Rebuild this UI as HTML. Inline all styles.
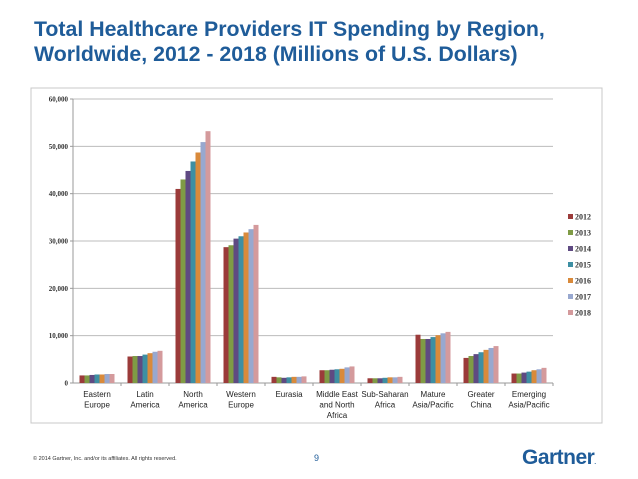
<!DOCTYPE html>
<html><head><meta charset="utf-8">
<style>
body{margin:0;width:638px;height:479px;background:#fff;font-family:"Liberation Sans",sans-serif;overflow:hidden;position:relative}
#title{position:absolute;left:34px;top:17px;color:#1f5c99;font-weight:bold;font-size:21.3px;line-height:25px;margin:0;white-space:nowrap}
#foot{position:absolute;left:33px;top:456px;font-size:5.5px;color:#333}
#pg{position:absolute;left:314px;top:453px;font-size:9px;color:#1f5c99}
#logo{position:absolute;left:522px;top:446px;font-size:21px;font-weight:bold;color:#1f5c99;letter-spacing:-0.5px}
</style></head><body>
<h1 id="title">Total Healthcare Providers IT Spending by Region,<br>Worldwide, 2012 - 2018 (Millions of U.S. Dollars)</h1>
<svg id="chart" width="638" height="479" style="position:absolute;left:0;top:0"></svg>
<div id="foot">© 2014 Gartner, Inc. and/or its affiliates. All rights reserved.</div>
<div id="pg">9</div>
<div id="logo">Gartner<span style="font-size:6px">.</span></div>
<script>
const categories=[["Eastern","Europe"],["Latin","America"],["North","America"],["Western","Europe"],["Eurasia"],["Middle East","and North","Africa"],["Sub-Saharan","Africa"],["Mature","Asia/Pacific"],["Greater","China"],["Emerging","Asia/Pacific"]];
const years=["2012","2013","2014","2015","2016","2017","2018"];
const colors=["#9b3b3a","#7f9b45","#5f4a82","#3d8fa3","#d98a3b","#98a8cf","#d49a9c"];
const s2012=[1600,5600,41000,28700,1300,2700,1000,10200,5300,2000];
const s2013=[1600,5700,43000,29100,1200,2700,1000,9300,5700,2000];
const s2014=[1700,5700,44800,30500,1100,2800,1000,9300,6100,2200];
const s2015=[1800,6000,46800,31000,1200,2900,1100,9700,6500,2400];
const s2016=[1800,6300,48700,31800,1300,3000,1200,10100,7000,2700];
const s2017=[1900,6600,50900,32500,1300,3300,1200,10500,7400,2900];
const s2018=[1900,6800,53200,33400,1400,3500,1300,10800,7800,3200];
const series=[s2012,s2013,s2014,s2015,s2016,s2017,s2018];
const ticks=[0,10000,20000,30000,40000,50000,60000];
const tickLabels=["0","10,000","20,000","30,000","40,000","50,000","60,000"];
const svg=document.getElementById('chart');const NS="http://www.w3.org/2000/svg";
function mk(t,a,p){const e=document.createElementNS(NS,t);for(const k in a)e.setAttribute(k,a[k]);(p||svg).appendChild(e);return e;}
const X0=73,X1=553,Y0=383,Y1=99;
const y=v=>Y0-(v/60000)*(Y0-Y1);
const gw=(X1-X0)/categories.length;
const frame=mk('rect',{x:31,y:88,width:571,height:335,fill:'#fff',stroke:'#c8c8c8','stroke-width':1});

ticks.forEach((t,i)=>{
 if(t>0){const g=mk('line',{x1:X0,y1:y(t),x2:X1,y2:y(t),stroke:'#bcbcbc','stroke-width':1});
 }
 mk('line',{x1:X0-3,y1:y(t),x2:X0,y2:y(t),stroke:'#999'});
 const tx=mk('text',{x:X0-5,y:y(t)+2.5,'text-anchor':'end','font-size':7,'font-family':'Liberation Serif,serif','font-weight':'bold',fill:'#333'});
 tx.textContent=tickLabels[i];
 
});
mk('line',{x1:X0,y1:Y1,x2:X0,y2:Y0,stroke:'#999'});
mk('line',{x1:X0,y1:Y0,x2:X1,y2:Y0,stroke:'#999'});
const bw=5;
categories.forEach((c,ci)=>{
 const gx=X0+gw*ci, start=gx+(gw-bw*7)/2;
 mk('line',{x1:gx+gw,y1:Y0,x2:gx+gw,y2:Y0+3,stroke:'#999'});
 series.forEach((s,si)=>{
  const r=mk('rect',{x:start+si*bw,y:y(s[ci]),width:bw,height:Y0-y(s[ci]),fill:colors[si]});
  
 });
 c.forEach((ln,li)=>{
  const t=mk('text',{x:gx+gw/2,y:Y0+14+li*10.5,'text-anchor':'middle','font-size':8,'font-family':'Liberation Sans,sans-serif',fill:'#222'});
  t.textContent=ln;
 });
});
years.forEach((yr,i)=>{
 const ly=217+i*16;
 const g=mk('g',{});
 mk('rect',{x:568,y:ly-3,width:5,height:5,fill:colors[i]},g);
 const t=mk('text',{x:575,y:ly+2.5,'font-size':8,'font-family':'Liberation Serif,serif','font-weight':'bold',fill:'#333'},g);t.textContent=yr;
});
</script>
</body></html>
